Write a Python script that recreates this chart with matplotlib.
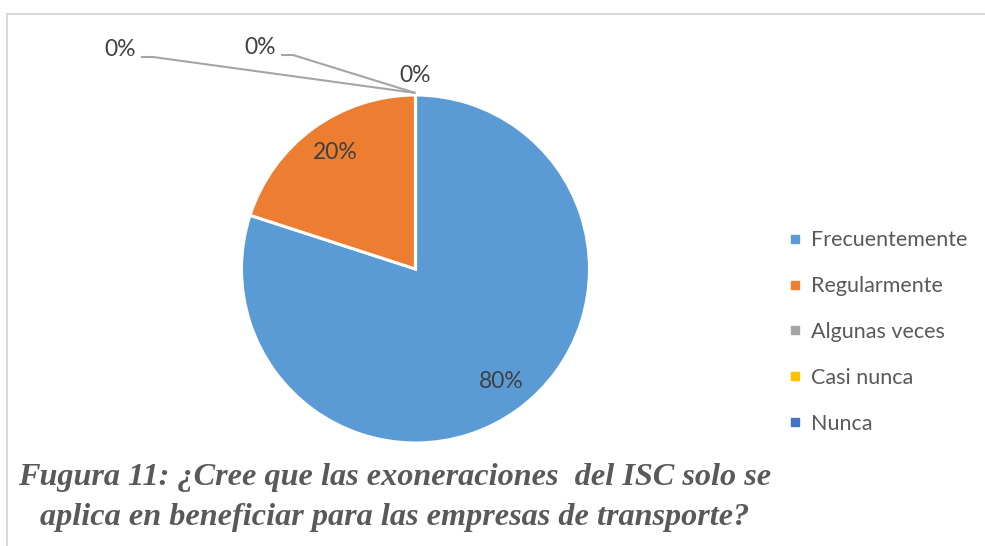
import matplotlib
matplotlib.use("Agg")
import matplotlib.pyplot as plt
from matplotlib.lines import Line2D
import numpy as np

categories = ["Frecuentemente", "Regularmente", "Algunas veces", "Casi nunca", "Nunca"]
values = [80, 20, 0, 0, 0]
colors = ["#5B9BD5", "#ED7D31", "#A5A5A5", "#FFC000", "#4472C4"]
caption = ["Fugura 11: ¿Cree que las exoneraciones  del ISC solo se",
           "aplica en beneficiar para las empresas de transporte?"]

W, H = 985, 546
fig = plt.figure(figsize=(W / 100, H / 100), dpi=100)
ax = fig.add_axes([0, 0, 1, 1])

cx, cy, r = 415.5, H - 269, 174
wedges, _ = ax.pie(values, colors=colors, startangle=90, counterclock=False,
                   center=(cx, cy), radius=r, frame=True,
                   wedgeprops=dict(edgecolor="white", linewidth=2.2))
ax.set_xlim(0, W)
ax.set_ylim(0, H)
ax.set_aspect("equal")
ax.axis("off")

total = sum(values)
lab_font = "Lato"
txt_col = "#404040"
# inside labels for non-zero slices
start = 90.0
for v in values:
    sweep = 360.0 * v / total
    if v > 0:
        mid = np.deg2rad(start - sweep / 2)
        d = 0.81 * r
        ax.text(cx + d * np.cos(mid) + 3, cy + d * np.sin(mid) + 2, f"{v/total:.0%}",
                ha="center", va="center", fontsize=16.5, color=txt_col, family=lab_font)
    start -= sweep

# zero slices: labels with leader lines from top of pie
top = (cx, cy + r)
zero_labels = [(120, H - 50, True), (260, H - 48, True), (415, H - 75, False)]
for (lx, ly, line), v in zip(zero_labels, values[2:]):
    ax.text(lx, ly, f"{v/total:.0%}", ha="center", va="center", fontsize=16.5,
            color=txt_col, family=lab_font)
    if line:
        ax.plot([lx + 21, lx + 33, top[0]], [ly - 7, ly - 7, top[1] + 2],
                color="#A5A5A5", lw=1.5, solid_capstyle="butt")

# legend
handles = [Line2D([], [], marker="s", linestyle="none", markersize=6,
                  markerfacecolor=c, markeredgecolor=c) for c in colors]
fig.legend(handles, categories, loc="center left", bbox_to_anchor=(778 / W, 1 - 332 / H),
           frameon=False, prop=dict(family=lab_font, size=15.5), labelcolor="#595959",
           handlelength=0.6, handletextpad=0.45, labelspacing=1.2, borderpad=0)

# caption
for i, line in enumerate(caption):
    ax.text(395, H - (478 + 40 * i), line, ha="center", va="center", fontsize=23.2,
            family="Liberation Serif", weight="bold", style="italic", color="#595959")

# chart border (top and left)
ax.plot([7, W], [H - 13.5, H - 13.5], color="#D9D9D9", lw=1.5)
ax.plot([7, 7], [H - 13.5, 0], color="#D9D9D9", lw=1.5)

fig.savefig("out.png", dpi=100)
